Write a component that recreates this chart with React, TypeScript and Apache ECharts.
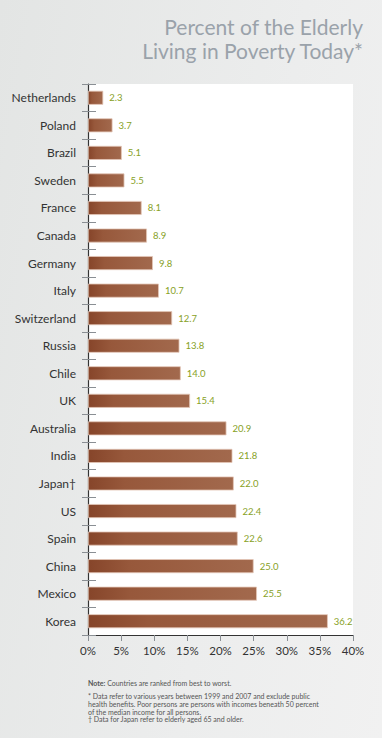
import React, { useEffect, useRef } from "react";
import * as echarts from "echarts";

const countries = [
  "Netherlands", "Poland", "Brazil", "Sweden", "France", "Canada", "Germany", "Italy",
  "Switzerland", "Russia", "Chile", "UK", "Australia", "India", "Japan†", "US",
  "Spain", "China", "Mexico", "Korea",
];
const values = [2.3, 3.7, 5.1, 5.5, 8.1, 8.9, 9.8, 10.7, 12.7, 13.8, 14.0, 15.4, 20.9, 21.8, 22.0, 22.4, 22.6, 25.0, 25.5, 36.2];
const xTicks = [0, 5, 10, 15, 20, 25, 30, 35, 40];
const titleLines = ["Percent of the Elderly", "Living in Poverty Today*"];
const notes = [
  "Countries are ranked from best to worst.",
  "* Data refer to various years between 1999 and 2007 and exclude public",
  "health benefits. Poor persons are persons with incomes beneath 50 percent",
  "of the median income for all persons.",
  "† Data for Japan refer to elderly aged 65 and older.",
];

export default function App() {
  const ref = useRef<HTMLDivElement>(null);
  useEffect(() => {
    if (!ref.current) return;
    const chart = echarts.init(ref.current, null, { renderer: "svg" });
    const font = "Lato, 'Noto Sans', sans-serif";
    chart.setOption({
      animation: false,
      backgroundColor: "transparent",
      textStyle: { fontFamily: font },
      grid: {
        left: 88, right: 29, top: 84, bottom: 103,
        show: true, backgroundColor: "#ffffff", borderWidth: 0,
      },
      xAxis: {
        type: "value",
        min: xTicks[0],
        max: xTicks[xTicks.length - 1],
        interval: 5,
        axisLine: { show: true, lineStyle: { color: "#333", width: 1.2 } },
        axisTick: { show: true, length: 6, lineStyle: { color: "#8a8f94" } },
        splitLine: { show: false },
        axisLabel: { formatter: "{value}%", color: "#333", fontSize: 11.5, margin: 9, fontFamily: font },
      },
      yAxis: [
        {
          type: "category",
          data: countries,
          inverse: true,
          axisLine: { show: true, lineStyle: { color: "#333", width: 1.2 } },
          axisTick: { show: true, length: 6, lineStyle: { color: "#8a8f94" } },
          axisLabel: { color: "#333", fontSize: 12, margin: 12, fontFamily: font },
        },
        {
          type: "category",
          data: countries,
          inverse: true,
          position: "left",
          axisLine: { show: false },
          axisTick: { show: true, inside: true, length: 8, lineStyle: { color: "#8a8f94" } },
          axisLabel: { show: false },
        },
      ],
      series: [
        {
          type: "bar",
          yAxisIndex: 0,
          data: values,
          barWidth: 14,
          itemStyle: {
            color: new echarts.graphic.LinearGradient(0, 0, 1, 0, [
              { offset: 0, color: "#86452a" },
              { offset: 0.25, color: "#97583b" },
              { offset: 1, color: "#a2694d" },
            ]),
            borderColor: "#e3c7b8",
            borderWidth: 0.8,
          },
          label: {
            show: true,
            position: "right",
            distance: 6,
            color: "#87a126",
            fontSize: 9.5,
            fontFamily: font,
            formatter: (p: any) => Number(p.value).toFixed(1),
          },
        },
      ],
      graphic: [
        {
          type: "text",
          x: 363,
          y: 26,
          style: {
            text: titleLines[0],
            fill: "#9aa2aa",
            font: `21px ${font}`,
            align: "right",
            verticalAlign: "middle",
          },
        },
        {
          type: "text",
          x: 363,
          y: 50,
          style: {
            text: titleLines[1],
            fill: "#9aa2aa",
            font: `21px ${font}`,
            align: "right",
            verticalAlign: "middle",
          },
        },
        {
          type: "text",
          x: 88,
          y: 683,
          style: {
            text: "{b|Note:} " + notes[0],
            fill: "#555",
            font: `7px ${font}`,
            verticalAlign: "middle",
            rich: { b: { fontWeight: "bold", fontSize: 7, fill: "#555", fontFamily: font } },
          },
        },
        ...notes.slice(1).map((t, i) => ({
          type: "text",
          x: 88,
          y: 696 + i * 7.8,
          style: {
            text: t,
            fill: "#555",
            font: `7px ${font}`,
            verticalAlign: "middle",
          },
        })),
      ],
    });
    return () => chart.dispose();
  }, []);
  return (
    <div
      style={{
        position: "fixed", left: 0, top: 0, width: 382, height: 738,
        background: "linear-gradient(100deg, #e3e5e4 0%, #eceded 60%, #f1f1f1 100%)",
      }}
    >
      <div ref={ref} style={{ width: 382, height: 738 }} />
    </div>
  );
}
